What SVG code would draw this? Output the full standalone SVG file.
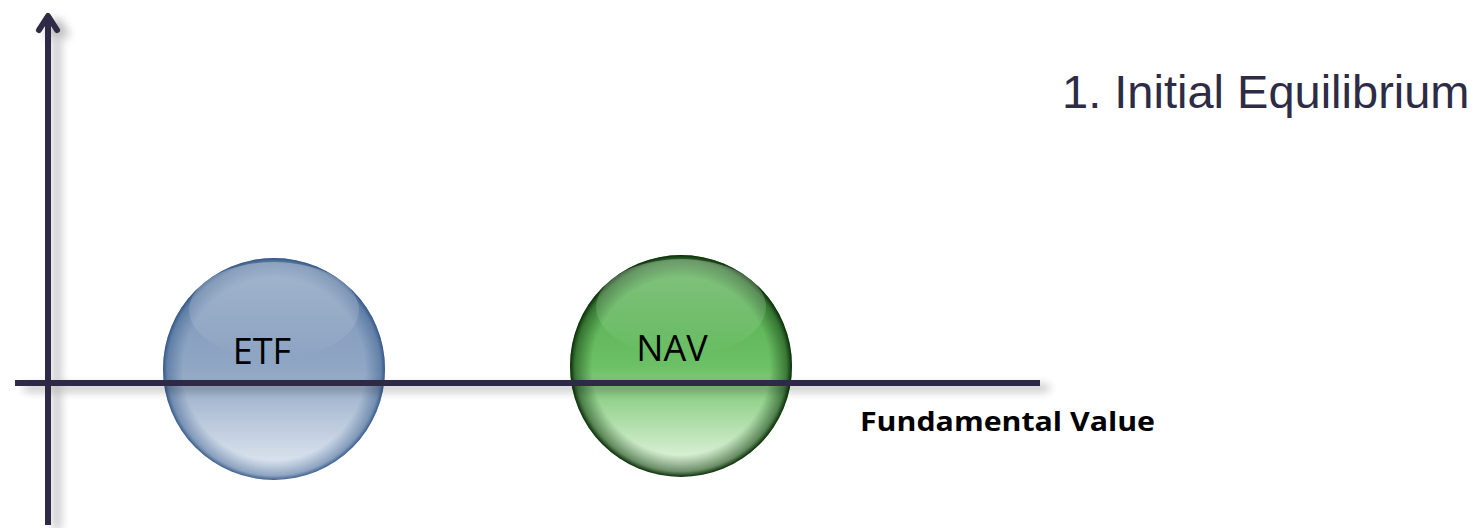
<svg xmlns="http://www.w3.org/2000/svg" width="1481" height="528" viewBox="0 0 1481 528">
  <style>
    .axis { stroke: #2e2b45; stroke-width: 6; fill: none; }
    .label { font-family: "Open Sans", "Liberation Sans", sans-serif; fill: #000; }
    .title { font-family: "Liberation Sans", Arial, sans-serif; font-size: 47px; fill: #2e2b45; }
  </style>
  <defs>
    <filter id="shadow" x="-20%" y="-20%" width="140%" height="140%">
      <feGaussianBlur in="SourceAlpha" stdDeviation="5"/>
      <feOffset dx="9" dy="5" result="b"/>
      <feComponentTransfer><feFuncA type="linear" slope="0.3"/></feComponentTransfer>
      <feMerge><feMergeNode/><feMergeNode in="SourceGraphic"/></feMerge>
    </filter>
    <!-- glass sphere shading: dark top, lit bottom -->
    <linearGradient id="blueBody" x1="0" y1="0" x2="0" y2="1">
      <stop offset="0" stop-color="#7d96b8"/>
      <stop offset="0.5" stop-color="#8fa6c4"/>
      <stop offset="1" stop-color="#e8eef6"/>
    </linearGradient>
    <radialGradient id="blueRim" cx="0.5" cy="0.5" r="0.5">
      <stop offset="0.82" stop-color="#3a5f8f" stop-opacity="0"/>
      <stop offset="0.96" stop-color="#3a5f8f" stop-opacity="0.5"/>
      <stop offset="1" stop-color="#2b4f80" stop-opacity="0.9"/>
    </radialGradient>
    <linearGradient id="greenBody" x1="0" y1="0" x2="0" y2="1">
      <stop offset="0" stop-color="#4ea84a"/>
      <stop offset="0.5" stop-color="#6cc065"/>
      <stop offset="1" stop-color="#f0faec"/>
    </linearGradient>
    <radialGradient id="greenRim" cx="0.5" cy="0.5" r="0.5">
      <stop offset="0.8" stop-color="#1a4a18" stop-opacity="0"/>
      <stop offset="0.95" stop-color="#1a4a18" stop-opacity="0.6"/>
      <stop offset="1" stop-color="#0a2a08" stop-opacity="1"/>
    </radialGradient>
    <linearGradient id="topSheen" x1="0" y1="0" x2="0" y2="1">
      <stop offset="0" stop-color="#fff" stop-opacity="0.3"/>
      <stop offset="1" stop-color="#fff" stop-opacity="0"/>
    </linearGradient>
  </defs>

  <g id="etf">
    <circle cx="274" cy="369" r="111" fill="url(#blueBody)"/>
    <circle cx="274" cy="369" r="111" fill="url(#blueRim)"/>
    <ellipse cx="274" cy="310" rx="85" ry="48" fill="url(#topSheen)"/>
    <text class="label" x="262" y="364" font-size="36" text-anchor="middle">ETF</text>
  </g>

  <g id="nav">
    <circle cx="681" cy="366" r="111" fill="url(#greenBody)"/>
    <circle cx="681" cy="366" r="111" fill="url(#greenRim)"/>
    <ellipse cx="681" cy="307" rx="85" ry="48" fill="url(#topSheen)"/>
    <text class="label" x="672" y="361" font-size="36" text-anchor="middle">NAV</text>
  </g>

  <g id="connectors" filter="url(#shadow)">
    <line class="axis" x1="48" y1="18" x2="48" y2="525"/>
    <path class="axis" d="M39 30 L48 16 L57 30" stroke-linejoin="round" stroke-linecap="round"/>
    <line class="axis" x1="15" y1="383" x2="1040" y2="383"/>
  </g>

  <g id="axis-label">
    <text class="label" x="860" y="431" font-size="27" font-weight="bold" textLength="295" lengthAdjust="spacingAndGlyphs">Fundamental Value</text>
  </g>

  <g id="title">
    <text class="title" x="1062" y="108">1. Initial Equilibrium</text>
  </g>
</svg>
